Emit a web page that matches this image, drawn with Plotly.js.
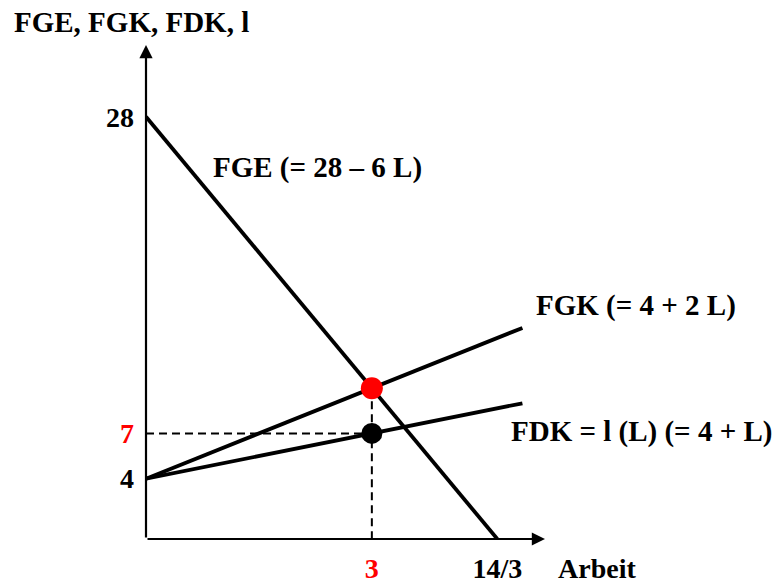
<!DOCTYPE html>
<html>
<head>
<meta charset="utf-8">
<script src="https://cdn.plot.ly/plotly-3.0.1.min.js"></script>
<style>
  html, body { margin: 0; padding: 0; background: #fff; }
  #chart { width: 777px; height: 583px; }
</style>
</head>
<body>
<div id="chart"></div>
<script>
// Labour market: marginal revenue (FGE), marginal factor cost (FGK) and supply curve (FDK)
const fgeL = [0, 14 / 3];
const fgeV = [28, 0];
const fgkL = [0, 5];
const fgkV = [4, 14];
const fdkL = [0, 5];
const fdkV = [4, 9];

// optimum: quantity 3, FGE = FGK = 10, wage from supply curve = 7
const optL = [3];
const optFG = [10];
const optWage = [7];

// guide lines
const hGuideL = [0, 3];
const hGuideV = [7, 7];
const vGuideL = [3, 3];
const vGuideV = [10, 0];

const xTickVals = [3, 14 / 3];
const xTickText = ['<span style="color:#ff0000">3</span>', '14/3'];
const yTickVals = [4, 7, 28];
const yTickText = ['4', '<span style="color:#ff0000">7</span>', '28'];

const FONT = "'Liberation Serif', 'Times New Roman', Times, serif";
const FS = 28;
const LABEL_FS = 29;
const BLACK = '#000000';
const RED = '#ff0000';

const traces = [
  { x: hGuideL, y: hGuideV, mode: 'lines', line: { color: BLACK, width: 2, dash: '8px,5px' }, hoverinfo: 'skip' },
  { x: vGuideL, y: vGuideV, mode: 'lines', line: { color: BLACK, width: 2, dash: '8px,5px' }, hoverinfo: 'skip' },
  { x: fgeL, y: fgeV, mode: 'lines', line: { color: BLACK, width: 3.8 }, name: 'FGE' },
  { x: fgkL, y: fgkV, mode: 'lines', line: { color: BLACK, width: 3.8 }, name: 'FGK' },
  { x: fdkL, y: fdkV, mode: 'lines', line: { color: BLACK, width: 3.8 }, name: 'FDK' },
  { x: optL, y: optFG, mode: 'markers', marker: { color: RED, size: 22 }, cliponaxis: false },
  { x: optL, y: optWage, mode: 'markers', marker: { color: BLACK, size: 21 }, cliponaxis: false }
];

const axisArrow = (x, y) => ({
  x: x, y: y, xref: 'x', yref: 'y',
  ax: 0, ay: 0, axref: 'x', ayref: 'y',
  text: '', showarrow: true, arrowhead: 2, arrowwidth: 2.2, arrowsize: 1.2,
  arrowcolor: BLACK, standoff: 0, startstandoff: 0
});

const label = (text, x, y, xanchor, extra) => Object.assign({
  text: '<b>' + text + '</b>', x: x, y: y, xref: 'paper', yref: 'paper',
  xanchor: xanchor, yanchor: 'middle', showarrow: false,
  font: { family: FONT, size: LABEL_FS, color: BLACK }
}, extra || {});

const layout = {
  width: 777,
  height: 583,
  margin: { l: 146, r: 232, t: 45, b: 44 },
  paper_bgcolor: '#ffffff',
  plot_bgcolor: '#ffffff',
  showlegend: false,
  font: { family: FONT, size: FS, color: BLACK },
  xaxis: {
    range: [0, 5.3], showgrid: false, zeroline: false, showline: false,
    tickmode: 'array', tickvals: xTickVals, ticktext: xTickText.map(t => '<b>' + t + '</b>'),
    ticks: '', ticklabelstandoff: 10,
    tickfont: { family: FONT, size: FS, color: BLACK }
  },
  yaxis: {
    range: [0, 32.76], showgrid: false, zeroline: false, showline: false,
    tickmode: 'array', tickvals: yTickVals, ticktext: yTickText.map(t => '<b>' + t + '</b>'),
    ticks: '', ticklabelstandoff: 11,
    tickfont: { family: FONT, size: FS, color: BLACK }
  },
  annotations: [
    axisArrow(5.3, 0),
    axisArrow(0, 32.76),
    label('FGE, FGK, FDK, l', -0.336, 1.0466, 'left'),
    label('Arbeit', 1.028, -0.059, 'left', { font: { family: FONT, size: FS, color: BLACK } }),
    label('FGE (= 28 – 6 L)', 0.163, 0.753, 'left'),
    label('FGK (= 4 + 2 L)', 0.973, 0.472, 'left'),
    label('FDK = l (L) (= 4 + L)', 0.909, 0.217, 'left')
  ]
};

Plotly.newPlot('chart', traces, layout, { displayModeBar: false, staticPlot: true });
</script>
</body>
</html>
